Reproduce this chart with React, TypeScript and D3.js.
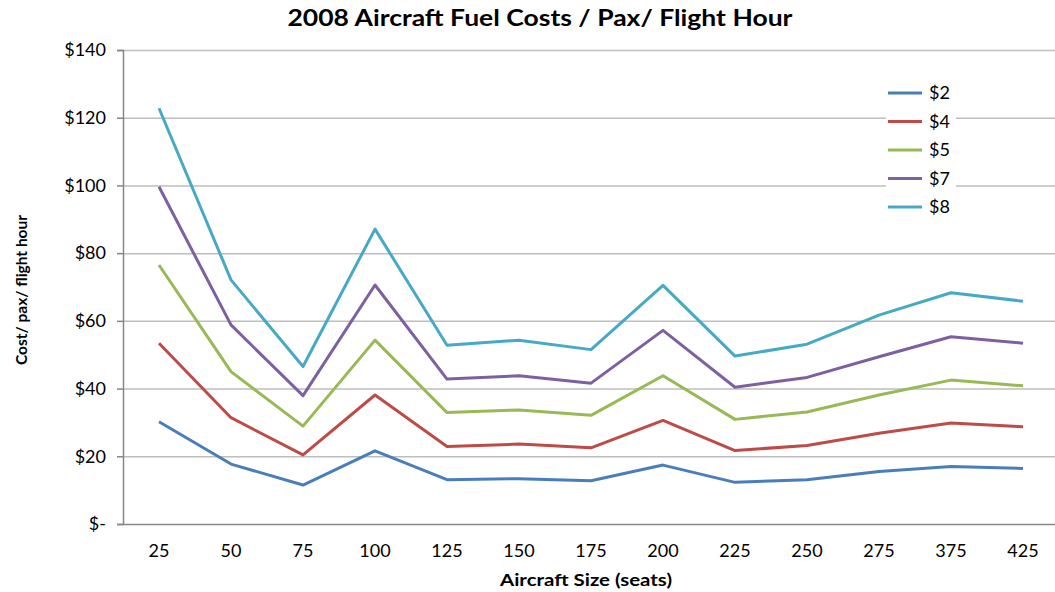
import { useEffect, useRef } from 'react';
import * as d3 from 'd3';

const seats = ['25', '50', '75', '100', '125', '150', '175', '200', '225', '250', '275', '375', '425'];
const fuelPrices = ['$2', '$4', '$5', '$7', '$8'];
const cost2 = [30.2, 17.7, 11.5, 21.6, 13.1, 13.4, 12.8, 17.4, 12.3, 13.1, 15.5, 17.0, 16.4];
const cost4 = [53.4, 31.4, 20.4, 38.1, 22.9, 23.6, 22.5, 30.6, 21.7, 23.2, 26.8, 29.8, 28.7];
const cost5 = [76.5, 45.0, 28.9, 54.3, 32.9, 33.7, 32.1, 43.8, 30.9, 33.1, 38.1, 42.5, 40.8];
const cost7 = [99.6, 58.8, 37.9, 70.6, 42.8, 43.8, 41.6, 57.2, 40.4, 43.3, 49.4, 55.3, 53.4];
const cost8 = [122.8, 72.1, 46.5, 87.1, 52.8, 54.3, 51.5, 70.5, 49.6, 53.1, 61.7, 68.3, 65.8];
const yTicks = [0, 20, 40, 60, 80, 100, 120, 140];
const colors = ['#4a7ebb', '#be4b48', '#98b954', '#7d60a0', '#46aac5'];

const FONT = 'Lato, Carlito, "Open Sans", sans-serif';

export default function App() {
  const svgRef = useRef<SVGSVGElement>(null);

  useEffect(() => {
    if (!svgRef.current) return;
    const W = 1055, H = 592;
    const margin = { top: 50, right: -4, bottom: 68, left: 123 };
    const width = W - margin.left - margin.right;
    const height = H - margin.top - margin.bottom;

    const svg = d3.select(svgRef.current).attr('width', W).attr('height', H);
    svg.selectAll('*').remove();
    svg.append('rect').attr('width', W).attr('height', H).attr('fill', '#fff');

    const g = svg.append('g').attr('transform', `translate(${margin.left},${margin.top})`);

    const x = d3.scaleBand().domain(seats).range([0, width]);
    const y = d3.scaleLinear().domain([0, 140]).range([height, 0]);

    // Grid
    g.append('g')
      .call(d3.axisLeft(y).tickValues(yTicks.slice(1)).tickSize(-width).tickFormat(() => ''))
      .call(gg => gg.select('.domain').remove())
      .call(gg => gg.selectAll('line').attr('stroke', '#bebebe').attr('stroke-width', 1.5));

    // Y axis
    g.append('g')
      .call(d3.axisLeft(y).tickValues(yTicks).tickSize(6).tickPadding(11)
        .tickFormat(d => (d === 0 ? '$-' : `$${d}`)))
      .call(gg => gg.select('.domain').attr('stroke', '#868686').attr('stroke-width', 1.5))
      .call(gg => gg.selectAll('.tick line').attr('stroke', '#868686').attr('stroke-width', 1.5))
      .call(gg => gg.selectAll('text')
        .attr('font-family', FONT).attr('font-size', 18).attr('fill', '#000'));

    // X axis
    g.append('g')
      .attr('transform', `translate(0,${height})`)
      .call(d3.axisBottom(x).tickSize(0).tickPadding(20))
      .call(gg => gg.select('.domain').attr('stroke', '#868686').attr('stroke-width', 1.5))
      .call(gg => gg.selectAll('text')
        .attr('font-family', FONT).attr('font-size', 18).attr('fill', '#000'));

    const series = [cost2, cost4, cost5, cost7, cost8];
    const line = d3.line<number>()
      .x((_, i) => x(seats[i])! + x.bandwidth() / 2)
      .y(d => y(d));

    series.forEach((s, i) => {
      g.append('path')
        .datum(s)
        .attr('d', line)
        .attr('fill', 'none')
        .attr('stroke', colors[i])
        .attr('stroke-width', 3)
        .attr('stroke-linejoin', 'round');
    });

    // Legend
    const lg = svg.append('g').attr('transform', 'translate(888,93)');
    fuelPrices.forEach((p, i) => {
      const row = lg.append('g').attr('transform', `translate(0,${i * 28.5})`);
      row.append('rect').attr('x', -2).attr('y', -10).attr('width', 70).attr('height', 20).attr('fill', '#fff');
      row.append('line').attr('x1', 0).attr('x2', 34).attr('stroke', colors[i]).attr('stroke-width', 3);
      row.append('text').attr('x', 41).attr('dy', '0.36em')
        .attr('font-family', FONT).attr('font-size', 18).text(p);
    });

    // Titles
    svg.append('text').attr('x', 540).attr('y', 26).attr('text-anchor', 'middle')
      .attr('font-family', FONT).attr('font-weight', 'bold').attr('font-size', 22)
      .attr('textLength', 505).attr('lengthAdjust', 'spacingAndGlyphs')
      .text('2008 Aircraft Fuel Costs / Pax/ Flight Hour');

    svg.append('text').attr('x', 586).attr('y', 586).attr('text-anchor', 'middle')
      .attr('font-family', FONT).attr('font-weight', 'bold').attr('font-size', 17)
      .attr('textLength', 172).attr('lengthAdjust', 'spacingAndGlyphs')
      .text('Aircraft Size (seats)');

    svg.append('text')
      .attr('transform', 'translate(27,290) rotate(-90)')
      .attr('text-anchor', 'middle')
      .attr('font-family', FONT).attr('font-weight', 'bold').attr('font-size', 16)
      .attr('textLength', 150).attr('lengthAdjust', 'spacingAndGlyphs')
      .text('Cost/ pax/ flight hour');
  }, []);

  return (
    <div style={{ position: 'fixed', left: 0, top: 0 }}>
      <svg ref={svgRef} style={{ display: 'block' }} />
    </div>
  );
}
